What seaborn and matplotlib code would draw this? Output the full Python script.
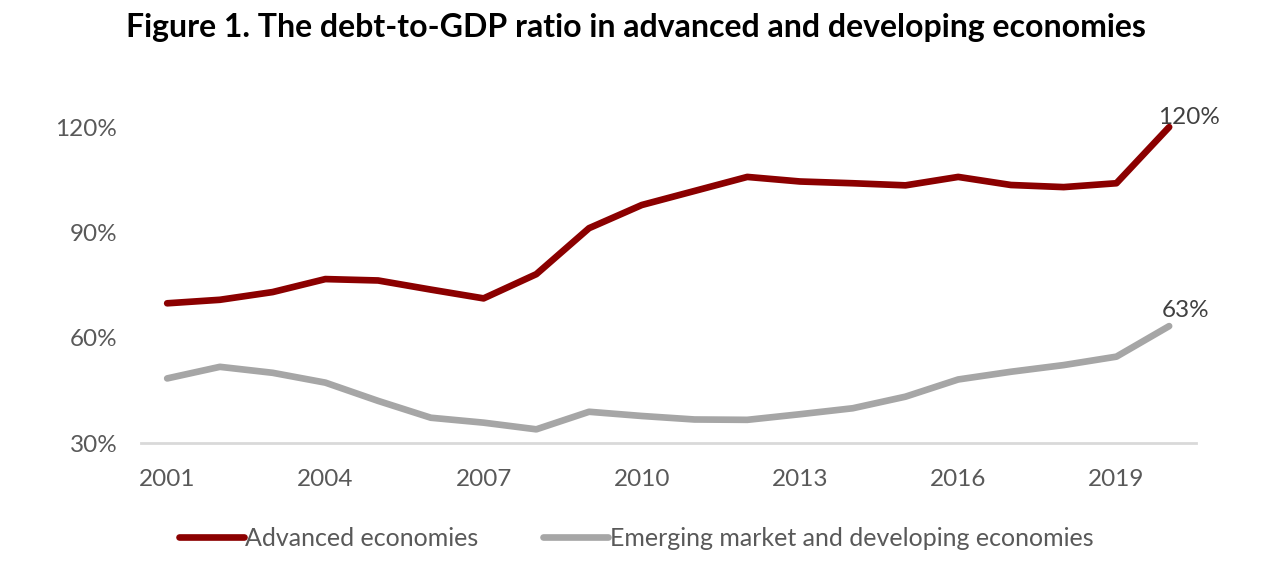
import pandas as pd
import matplotlib
matplotlib.use('Agg')
import matplotlib.pyplot as plt
import seaborn as sns
from matplotlib.lines import Line2D

# data
years = list(range(2001, 2021))
advanced = [69.8, 70.8, 73.0, 76.7, 76.3, 73.7, 71.2, 78.1, 91.2, 97.8,
            101.8, 105.8, 104.5, 104.0, 103.4, 105.8, 103.5, 102.9, 104.0, 120.0]
emerging = [48.4, 51.7, 50.0, 47.2, 42.0, 37.2, 35.8, 33.9, 38.9, 37.7,
            36.7, 36.6, 38.2, 39.9, 43.2, 48.1, 50.3, 52.2, 54.6, 63.3]
series_names = ['Advanced economies', 'Emerging market and developing economies']
colors = ['#8B0000', '#A6A6A6']
y_ticks = [30, 60, 90, 120]
x_ticks = [2001, 2004, 2007, 2010, 2013, 2016, 2019]

df = pd.DataFrame({
    'year': years * 2,
    'value': advanced + emerging,
    'series': [series_names[0]] * len(years) + [series_names[1]] * len(years),
})

sns.set_style('white')
plt.rcParams['font.family'] = ['Lato', 'DejaVu Sans']
text_col = '#595959'
fs = 17.5

fig = plt.figure(figsize=(12.8, 5.81), dpi=100)
ax = fig.add_axes([0.110, 0.2375, 0.824, 0.6042])

sns.lineplot(data=df, x='year', y='value', hue='series', palette=colors,
             linewidth=4.8, ax=ax, legend=False)
for line in ax.get_lines():
    line.set_solid_capstyle('round')
    line.set_solid_joinstyle('round')

ax.set_xlim(2000.5, 2020.5)
ax.set_ylim(30, 130)
ax.set_xticks(x_ticks)
ax.set_yticks(y_ticks)
ax.set_yticklabels([f'{v}%' for v in y_ticks])
ax.tick_params(axis='both', length=0, labelsize=fs, labelcolor=text_col)
ax.tick_params(axis='x', pad=19)
ax.tick_params(axis='y', pad=17)
ax.set_xlabel('')
ax.set_ylabel('')
for s in ['top', 'right', 'left']:
    ax.spines[s].set_visible(False)
ax.spines['bottom'].set_color('#D9D9D9')
ax.spines['bottom'].set_linewidth(2)

# end labels
ax.annotate(f'{advanced[-1]:.0f}%', (years[-1], advanced[-1]), xytext=(-8, 2),
            textcoords='offset points', fontsize=fs, color='#404040', va='baseline')
ax.annotate(f'{emerging[-1]:.0f}%', (years[-1], emerging[-1]), xytext=(-5, 6.5),
            textcoords='offset points', fontsize=fs, color='#404040', va='baseline')

handles = [Line2D([0], [0], color=c, lw=4.8, solid_capstyle='round') for c in colors]
leg = fig.legend(handles, series_names, loc='center', bbox_to_anchor=(0.497, 0.074),
                 ncol=2, frameon=False, fontsize=18, handlelength=2.6,
                 handletextpad=0.05, columnspacing=2.6)
for t in leg.get_texts():
    t.set_color(text_col)

fig.suptitle('Figure 1. The debt-to-GDP ratio in advanced and developing economies',
             x=0.497, y=0.952, va='center', fontsize=23, fontweight='bold', color='black')

fig.savefig('out.png', dpi=100)
